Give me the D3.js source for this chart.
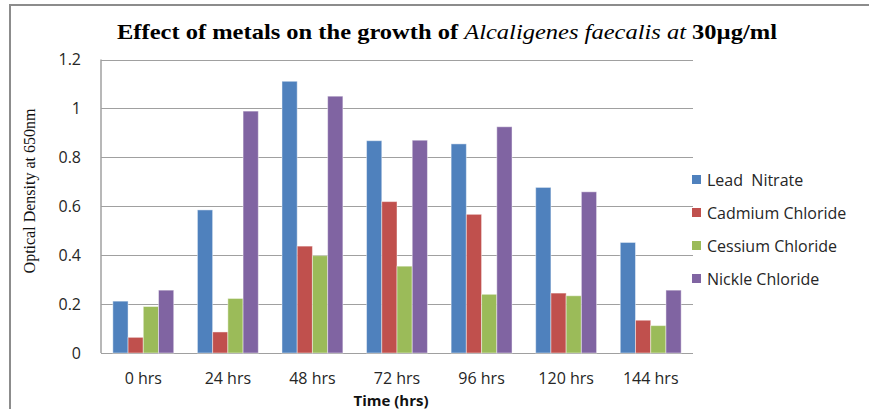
<!DOCTYPE html>
<html>
<head>
<meta charset="utf-8">
<script src="https://cdn.jsdelivr.net/npm/d3@7"></script>
<style>
  html, body { margin: 0; padding: 0; background: #fff; }
  svg { display: block; }
</style>
</head>
<body>
<svg id="chart" width="869" height="409"></svg>
<script>
// Sampling times (x categories)
const categories = ["0 hrs", "24 hrs", "48 hrs", "72 hrs", "96 hrs", "120 hrs", "144 hrs"];

// Optical density at 650 nm for each metal salt
const seriesNames = ["Lead  Nitrate", "Cadmium Chloride", "Cessium Chloride", "Nickle Chloride"];
const leadNitrate      = [0.212, 0.585, 1.111, 0.868, 0.855, 0.677, 0.452];
const cadmiumChloride  = [0.064, 0.086, 0.437, 0.619, 0.567, 0.245, 0.134];
const cessiumChloride  = [0.190, 0.223, 0.398, 0.355, 0.240, 0.234, 0.112];
const nickleChloride   = [0.257, 0.989, 1.050, 0.870, 0.925, 0.659, 0.257];
const seriesValues = [leadNitrate, cadmiumChloride, cessiumChloride, nickleChloride];
const seriesColors = ["#4F81BD", "#C0504D", "#9BBB59", "#8064A2"];

// Y axis tick labels
const yTicks = [0, 0.2, 0.4, 0.6, 0.8, 1, 1.2];

const svg = d3.select("#chart");
const uiFont = "'Open Sans', 'Noto Sans', sans-serif";
const serifFont = "'Liberation Serif', 'Times New Roman', serif";

// Outer frame (top and left edges)
svg.append("line").attr("x1", 10).attr("x2", 869).attr("y1", 5).attr("y2", 5)
  .attr("stroke", "#8c8c8c").attr("stroke-width", 2);
svg.append("line").attr("x1", 10).attr("x2", 10).attr("y1", 4).attr("y2", 409)
  .attr("stroke", "#8c8c8c").attr("stroke-width", 2);

const plot = { left: 101, right: 693, top: 59.5, bottom: 353 };

const x = d3.scaleBand().domain(categories)
  .range([plot.left, plot.right]).paddingInner(0.28).paddingOuter(0.14);
const xs = d3.scaleBand().domain(d3.range(seriesNames.length))
  .range([0, x.bandwidth()]).padding(0);
const y = d3.scaleLinear().domain([0, 1.2]).range([plot.bottom, plot.top]);

// Horizontal gridlines
svg.append("g").selectAll("line").data(yTicks).join("line")
  .attr("x1", plot.left).attr("x2", plot.right)
  .attr("y1", d => Math.round(y(d)) + 0.5).attr("y2", d => Math.round(y(d)) + 0.5)
  .attr("stroke", "#a0a0a0").attr("stroke-width", 1);

// Y axis line
svg.append("line").attr("x1", plot.left).attr("x2", plot.left)
  .attr("y1", plot.top).attr("y2", plot.bottom)
  .attr("stroke", "#a0a0a0").attr("stroke-width", 1.5);

// Y axis labels
const yAxis = d3.axisLeft(y).tickValues(yTicks).tickSize(0).tickPadding(0)
  .tickFormat(d => d3.format("")(d));
const yg = svg.append("g").attr("transform", `translate(${plot.left - 20},0)`).call(yAxis);
yg.select(".domain").remove();
yg.selectAll("text").attr("font-family", uiFont).attr("font-size", 16).attr("fill", "#262626");

// Bars
const groups = svg.append("g").selectAll("g").data(categories).join("g")
  .attr("transform", d => `translate(${x(d)},0)`);
groups.selectAll("rect")
  .data((c, i) => seriesValues.map((vals, s) => ({ s, v: vals[i] })))
  .join("rect")
  .attr("x", d => xs(d.s))
  .attr("width", xs.bandwidth())
  .attr("y", d => y(d.v))
  .attr("height", d => y(0) - y(d.v))
  .attr("fill", d => seriesColors[d.s])
  .attr("stroke", "rgba(255,255,255,0.45)")
  .attr("stroke-width", 1);

// X axis labels
const xAxis = d3.axisBottom(x).tickSize(0).tickPadding(0);
const xg = svg.append("g").attr("transform", `translate(0,${plot.bottom + 20})`).call(xAxis);
xg.select(".domain").remove();
xg.selectAll("text").attr("font-family", uiFont).attr("font-size", 16).attr("fill", "#262626");

// X axis title
svg.append("text").attr("x", 391).attr("y", 406).attr("text-anchor", "middle")
  .attr("font-family", uiFont).attr("font-weight", "bold").attr("font-size", 15)
  .attr("fill", "#111").text("Time (hrs)");

// Y axis title
svg.append("text").attr("transform", "translate(35,191) rotate(-90)")
  .attr("text-anchor", "middle").attr("font-family", serifFont).attr("font-size", 16)
  .attr("fill", "#111").text("Optical Density at 650nm");

// Chart title
const title = svg.append("text").attr("x", 447).attr("y", 39).attr("text-anchor", "middle")
  .attr("font-family", serifFont).attr("font-size", 22).attr("fill", "#000")
  .attr("textLength", 660).attr("lengthAdjust", "spacingAndGlyphs");
title.append("tspan").attr("font-weight", "bold").text("Effect of metals on the growth of ");
title.append("tspan").attr("font-style", "italic").text("Alcaligenes faecalis at ");
title.append("tspan").attr("font-weight", "bold").text("30µg/ml");

// Legend
const legend = svg.append("g").selectAll("g").data(seriesNames).join("g")
  .attr("transform", (d, i) => `translate(692,${180 + i * 33})`);
legend.append("rect").attr("x", 0).attr("y", -5).attr("width", 9).attr("height", 9)
  .attr("fill", (d, i) => seriesColors[i]);
legend.append("text").attr("x", 15).attr("y", 0).attr("dy", "0.35em")
  .attr("font-family", uiFont).attr("font-size", 16).attr("fill", "#262626")
  .style("white-space", "pre")
  .text(d => d);
</script>
</body>
</html>
